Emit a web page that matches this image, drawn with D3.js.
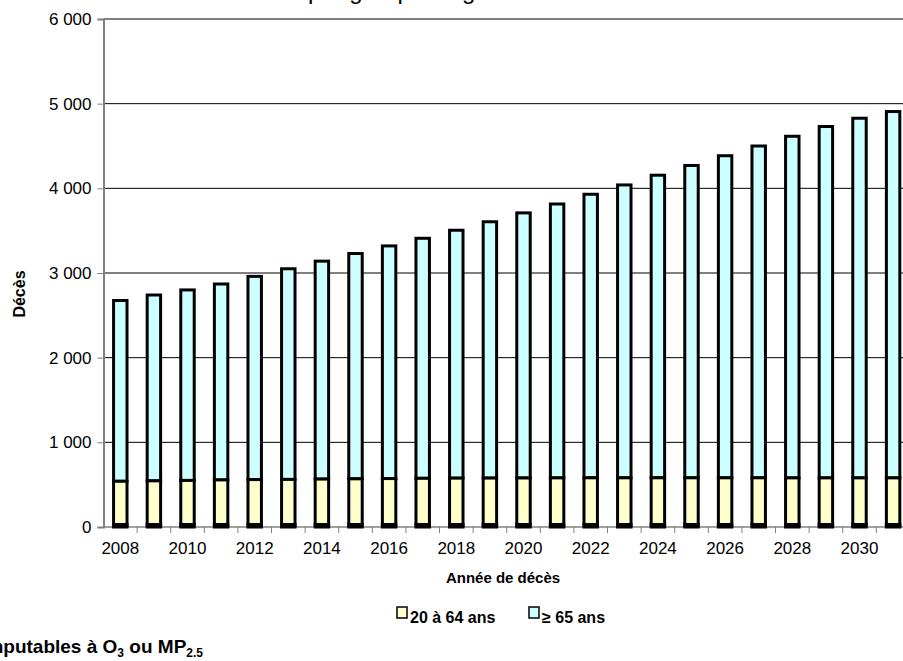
<!DOCTYPE html>
<html><head><meta charset="utf-8">
<script src="https://cdn.jsdelivr.net/npm/d3@7"></script>
<style>
html,body{margin:0;padding:0;background:#fff;overflow:hidden}
text{font-family:"Liberation Sans",Arial,sans-serif}
</style></head>
<body>
<svg id="c" width="903" height="661"></svg>
<script>
const years = [2008,2009,2010,2011,2012,2013,2014,2015,2016,2017,2018,2019,2020,2021,2022,2023,2024,2025,2026,2027,2028,2029,2030,2031];
const totals = [2675,2740,2800,2870,2960,3050,3140,3230,3320,3410,3505,3605,3710,3815,3930,4040,4155,4270,4385,4500,4615,4730,4828,4907];
const adults = [540,545,550,556,560,562,566,569,572,575,577,578,579,580,581,581,581,581,581,581,580,580,580,580];
const seniors = totals.map((t,i)=>t-adults[i]);
const yTicks = [0,1000,2000,3000,4000,5000,6000];
const xTickLabels = [2008,2010,2012,2014,2016,2018,2020,2022,2024,2026,2028,2030];
const seriesNames = ["20 à 64 ans","≥ 65 ans"];
const colors = ["#FFFFCC","#CCFFFF"];

const svg = d3.select("#c");
const L = 103.5, T = 19, B = 527;
const band = 33.6;
const R = L + band*years.length;
const fmt = v => d3.format(",")(v).replace(/,/g," ");

const x = d3.scaleBand().domain(years).range([L,R]).paddingInner(0).paddingOuter(0);
const y = d3.scaleLinear().domain([0,6000]).range([B,T]);

// gridlines
svg.append("g").selectAll("line").data(yTicks.filter(v=>v>0 && v<6000)).join("line")
  .attr("x1",L).attr("x2",R).attr("y1",d=>y(d)).attr("y2",d=>y(d))
  .attr("stroke","#000").attr("stroke-width",1);
// top border
svg.append("line").attr("x1",L).attr("x2",R).attr("y1",y(6000)).attr("y2",y(6000))
  .attr("stroke","#808080").attr("stroke-width",2);

// y axis
const ya = svg.append("g").attr("transform",`translate(${L},0)`)
  .call(d3.axisLeft(y).tickValues(yTicks).tickFormat(fmt).tickSize(6).tickPadding(6));
ya.select(".domain").attr("stroke","#808080").attr("stroke-width",2);
ya.selectAll(".tick line").attr("stroke","#808080");
ya.selectAll("text").attr("font-size",17).attr("fill","#000").attr("font-family","Liberation Sans, Arial, sans-serif");

// x axis (ticks at band boundaries)
const xa = svg.append("g").attr("transform",`translate(0,${B})`);
xa.append("line").attr("x1",L).attr("x2",R).attr("stroke","#808080").attr("stroke-width",1.5);
xa.selectAll("line.t").data(years).join("line").attr("class","t")
  .attr("x1",d=>x(d)+band).attr("x2",d=>x(d)+band).attr("y1",0).attr("y2",6)
  .attr("stroke","#808080");
xa.selectAll("text").data(xTickLabels).join("text")
  .attr("x",d=>x(d)+band/2).attr("y",27).attr("text-anchor","middle")
  .attr("font-size",17).text(d=>d);

// bars
const bw = band*0.4;
const g = svg.append("g");
years.forEach((yr,i)=>{
  const cx = x(yr)+band/2;
  g.append("rect").attr("x",cx-bw/2).attr("width",bw)
    .attr("y",y(totals[i])).attr("height",y(adults[i])-y(totals[i]))
    .attr("fill",colors[1]).attr("stroke","#000").attr("stroke-width",3);
  g.append("rect").attr("x",cx-bw/2).attr("width",bw)
    .attr("y",y(adults[i])).attr("height",y(0)-y(adults[i]))
    .attr("fill",colors[0]).attr("stroke","#000").attr("stroke-width",3);
  g.append("rect").attr("x",cx-bw/2-1.5).attr("width",bw+3)
    .attr("y",y(0)-4).attr("height",4).attr("fill","#000");
});

// axis titles
svg.append("text").attr("x",503).attr("y",583).attr("text-anchor","middle")
  .attr("font-size",15).attr("font-weight","bold").text("Année de décès");
svg.append("text").attr("transform","translate(25,294) rotate(-90)").attr("text-anchor","middle")
  .attr("font-size",16).attr("font-weight","bold").text("Décès");

// title (mostly cut off)
svg.append("text").attr("x",308).attr("y",-1).attr("font-size",24).text("par groupe d'âge");

// legend
const lg = svg.append("g");
const lx = [397,529];
seriesNames.forEach((n,i)=>{
  lg.append("rect").attr("x",lx[i]).attr("y",607).attr("width",10).attr("height",11)
    .attr("fill",colors[i]).attr("stroke","#000").attr("stroke-width",1.5);
  lg.append("text").attr("x",lx[i]+13).attr("y",623).attr("font-size",16)
    .attr("font-weight","bold").text(n);
});

// bottom caption (cut at left)
const cap = svg.append("text").attr("x",203).attr("y",653).attr("text-anchor","end")
  .attr("font-size",19).attr("font-weight","bold");
cap.append("tspan").text("Décès imputables à O");
cap.append("tspan").attr("font-size",12).attr("dy",4).text("3");
cap.append("tspan").attr("dy",-4).text(" ou MP");
cap.append("tspan").attr("font-size",12).attr("dy",4).text("2.5");
</script>
</body></html>
